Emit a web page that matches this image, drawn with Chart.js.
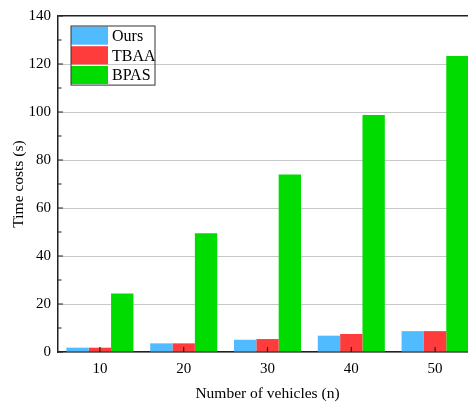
<!DOCTYPE html>
<html>
<head>
<meta charset="utf-8">
<script src="https://cdn.jsdelivr.net/npm/chart.js@4/dist/chart.umd.min.js"></script>
<style>
    html, body { margin: 0; padding: 0; overflow: hidden; background: #fff; }
    canvas { display: block; }
</style>
</head>
<body>
<canvas id="costChart" width="478" height="403"></canvas>
<script>
// Datos
const vehicleCounts = ['10', '20', '30', '40', '50'];
const oursCosts = [1.8, 3.6, 5.1, 6.8, 8.7];
const tbaaCosts = [1.8, 3.6, 5.4, 7.5, 8.7];
const bpasCosts = [24.4, 49.5, 74.0, 98.8, 123.3];
const yTicks = [0, 20, 40, 60, 80, 100, 120, 140];

const serif = "'Liberation Serif', 'Times New Roman', serif";
Chart.defaults.font.family = serif;
Chart.defaults.color = '#000';

// Marcas hacia dentro y leyenda con recuadro
const framePlugin = {
    id: 'frame',
    afterDraw(chart) {
        const ctx = chart.ctx;
        const area = chart.chartArea;
        const x = chart.scales.x;
        const y = chart.scales.y;
        ctx.save();
        ctx.strokeStyle = '#222';
        ctx.lineWidth = 1.2;
        ctx.beginPath();
        x.ticks.forEach((t, i) => {
            const px = x.getPixelForTick(i);
            ctx.moveTo(px, area.bottom);
            ctx.lineTo(px, area.bottom - 5);
        });
        for (let v = 0; v <= 140; v += 10) {
            const py = y.getPixelForValue(v);
            const len = v % 20 === 0 ? 5 : 3.5;
            ctx.moveTo(area.left, py);
            ctx.lineTo(area.left + len, py);
        }
        ctx.stroke();

        // leyenda
        const lx = area.left + 13, ly = area.top + 10, w = 84, rowH = 19.7;
        ctx.font = '16px ' + serif;
        ctx.textBaseline = 'middle';
        chart.data.datasets.forEach((ds, i) => {
            ctx.fillStyle = ds.backgroundColor;
            ctx.fillRect(lx, ly + i * rowH + 0.5, 37, rowH - 1.5);
            ctx.fillStyle = '#000';
            ctx.fillText(ds.label, lx + 41, ly + i * rowH + rowH / 2 + 1);
        });
        ctx.strokeStyle = '#333';
        ctx.lineWidth = 1;
        ctx.strokeRect(lx, ly, w, rowH * 3);
        ctx.restore();
    }
};

new Chart(document.getElementById('costChart').getContext('2d'), {
    type: 'bar',
    data: {
        labels: vehicleCounts,
        datasets: [
            { label: 'Ours', data: oursCosts, backgroundColor: '#50bbff' },
            { label: 'TBAA', data: tbaaCosts, backgroundColor: '#ff3c3c' },
            { label: 'BPAS', data: bpasCosts, backgroundColor: '#00dc00' }
        ]
    },
    options: {
        responsive: false,
        animation: false,
        datasets: {
            bar: { categoryPercentage: 0.8, barPercentage: 1.0 }
        },
        layout: { padding: { top: 8, right: 1, left: 10, bottom: 0 } },
        plugins: {
            legend: { display: false },
            tooltip: { enabled: false }
        },
        scales: {
            x: {
                afterFit: (scale) => { scale.height = 51; },
                grid: { display: false, drawTicks: false },
                border: { display: true, color: '#222', width: 1.5 },
                ticks: { font: { size: 15 }, padding: 8 },
                title: {
                    display: true,
                    text: 'Number of vehicles (n)',
                    font: { size: 15.5 },
                    padding: { top: 6, bottom: 0 }
                }
            },
            y: {
                min: 0,
                max: 140,
                afterFit: (scale) => { scale.width = 48; },
                afterBuildTicks: (scale) => {
                    scale.ticks = yTicks.map(v => ({ value: v }));
                },
                grid: {
                    drawTicks: false,
                    color: (c) => c.tick && c.tick.value === 140 ? '#222' : '#c8c8c8',
                    lineWidth: (c) => c.tick && c.tick.value === 140 ? 1.5 : 1
                },
                border: { display: true, color: '#222', width: 1.5 },
                ticks: { font: { size: 15 }, padding: 7 },
                title: {
                    display: true,
                    text: 'Time costs (s)',
                    font: { size: 15.5 },
                    padding: { top: 0, bottom: 0 }
                }
            }
        }
    },
    plugins: [framePlugin]
});
</script>
</body>
</html>
